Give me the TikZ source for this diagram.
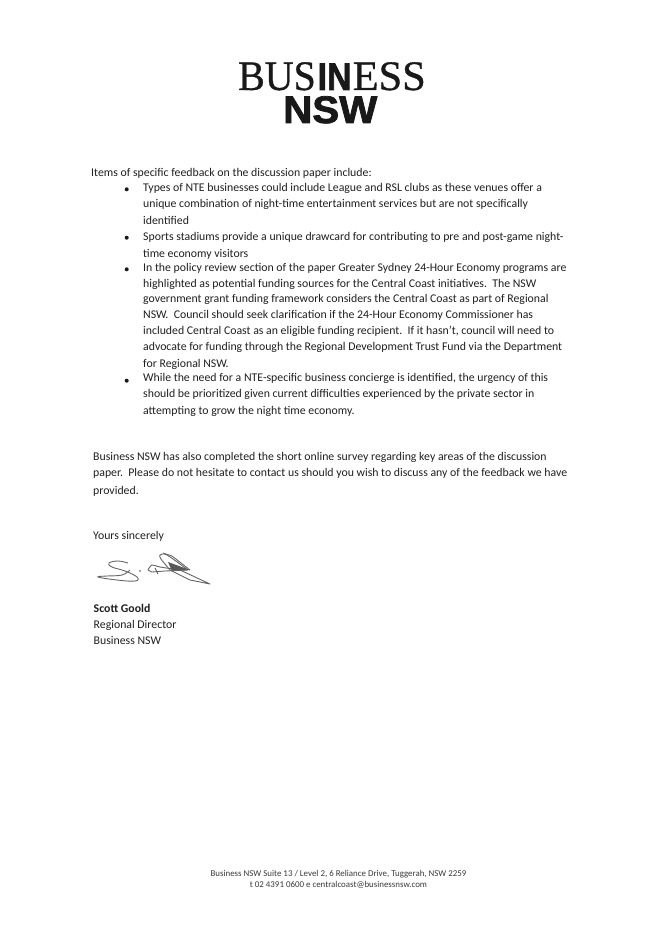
\documentclass[tikz,border=0pt]{standalone}
\usepackage{fontspec}
\setmainfont{Carlito}
\newfontfamily\logoserif[FakeBold=0.8]{Liberation Serif}
\newfontfamily\logoheavy[FakeBold=2]{Liberation Sans Bold}
\tikzset{
    bodyline/.style={anchor=base west,inner sep=0pt,font=\fontsize{11.8}{13}\selectfont,text=black!88},
    footline/.style={anchor=base,inner sep=0pt,font=\fontsize{8.9}{10}\selectfont,text=black!78},
    bulletdot/.style={circle,fill=black!90,inner sep=0pt,minimum size=4pt},
    logotext/.style={anchor=base west,inner sep=0pt,text=black!90},
    signstroke/.style={black!60,line width=0.9pt,line join=round},
}
\begin{document}
\begin{tikzpicture}[x=1pt,y=-1pt]
    \useasboundingbox (0,0) rectangle (670,947);
    % Logo
    \node[logotext,font=\logoserif\fontsize{42}{42}\selectfont] (logoBUS) at (238,90) {\scalebox{0.95}[1]{BUS}};
    \node[logotext,font=\logoheavy\fontsize{38.4}{39}\selectfont] (logoIN) at (317.5,90) {\scalebox{0.88}[1]{IN}};
    \node[logotext,font=\logoserif\fontsize{42}{42}\selectfont] (logoESS) at (352.5,90) {\scalebox{1.01}[1]{ESS}};
    \node[logotext,font=\logoheavy\fontsize{38.4}{39}\selectfont] (logoNSW) at (283,123) {\scalebox{1.05}[1]{NSW}};
    % Intro
    \node[bodyline] (intro) at (91,176) {Items of specific feedback on the discussion paper include:};
    % Bullet points
    \node[bulletdot] (dotA) at (126.7,189.3) {};
    \node[bulletdot] (dotB) at (126.7,237.7) {};
    \node[bulletdot] (dotC) at (126.7,269.3) {};
    \node[bulletdot] (dotD) at (126.7,380.7) {};
    \node[bodyline] (lineA) at (143,191.5) {Types of NTE businesses could include League and RSL clubs as these venues offer a};
    \node[bodyline] (lineB) at (143,207) {unique combination of night-time entertainment services but are not specifically};
    \node[bodyline] (lineC) at (143,224) {identified};
    \node[bodyline] (lineD) at (143,240.5) {Sports stadiums provide a unique drawcard for contributing to pre and post-game night-};
    \node[bodyline] (lineE) at (143,257) {time economy visitors};
    \node[bodyline] (lineF) at (143,271) {In the policy review section of the paper Greater Sydney 24-Hour Economy programs are};
    \node[bodyline] (lineG) at (143,287.4) {highlighted as potential funding sources for the Central Coast initiatives.\ \ The NSW};
    \node[bodyline] (lineH) at (143,302.6) {government grant funding framework considers the Central Coast as part of Regional};
    \node[bodyline] (lineI) at (143,318.5) {NSW.\ \ Council should seek clarification if the 24-Hour Economy Commissioner has};
    \node[bodyline] (lineJ) at (143,334) {included Central Coast as an eligible funding recipient.\ \ If it hasn't, council will need to};
    \node[bodyline] (lineK) at (143,350) {advocate for funding through the Regional Development Trust Fund via the Department};
    \node[bodyline] (lineL) at (143,367.5) {for Regional NSW.};
    \node[bodyline] (lineM) at (143,381.3) {While the need for a NTE-specific business concierge is identified, the urgency of this};
    \node[bodyline] (lineN) at (143,397.4) {should be prioritized given current difficulties experienced by the private sector in};
    \node[bodyline] (lineO) at (143,414) {attempting to grow the night time economy.};
    % Closing
    \node[bodyline] (closeA) at (93,460.8) {Business NSW has also completed the short online survey regarding key areas of the discussion};
    \node[bodyline] (closeB) at (93,476.8) {paper.\ \ Please do not hesitate to contact us should you wish to discuss any of the feedback we have};
    \node[bodyline] (closeC) at (93,494) {provided.};
    \node[bodyline] (yours) at (93,539.8) {Yours sincerely};
    % Signature
    \draw[signstroke] plot[smooth,tension=0.7] coordinates {(128,563) (118,561) (109,563) (112,567) (125,571) (137,577) (135,581) (117,580) (98,577) (107,576) (122,575) (130,570)};
    \fill[black!70] (140,571) circle (0.8);
    \draw[signstroke] plot[smooth,tension=0.5] coordinates {(148,570) (152,565) (160,567) (180,570)};
    \draw[signstroke] (180,570) -- (210,584) -- (190,580) -- (170,570);
    \draw[signstroke] plot[smooth,tension=0.5] coordinates {(170,570) (161,559) (160,555) (167,555) (188,570)};
    \draw[signstroke] (163,553) -- (172,556) -- (190,570);
    \fill[black!65] (168,562) -- (190,570) -- (172,571) -- cycle;
    \draw[signstroke] (188,570) -- (165,571) -- (152,572) -- (148,570);
    \draw[signstroke] (155,568) -- (158,574);
    % Signatory
    \node[bodyline,font=\fontsize{11.8}{13}\selectfont\bfseries] (signName) at (93.5,612) {Scott Goold};
    \node[bodyline] (signRole) at (93.5,628) {Regional Director};
    \node[bodyline] (signOrg) at (93.5,644) {Business NSW};
    % Footer
    \node[footline] (footA) at (338.5,876) {Business NSW Suite 13 / Level 2, 6 Reliance Drive, Tuggerah, NSW 2259};
    \node[footline] (footB) at (338.5,887) {t 02 4391 0600 e centralcoast@businessnsw.com};
\end{tikzpicture}
\end{document}
